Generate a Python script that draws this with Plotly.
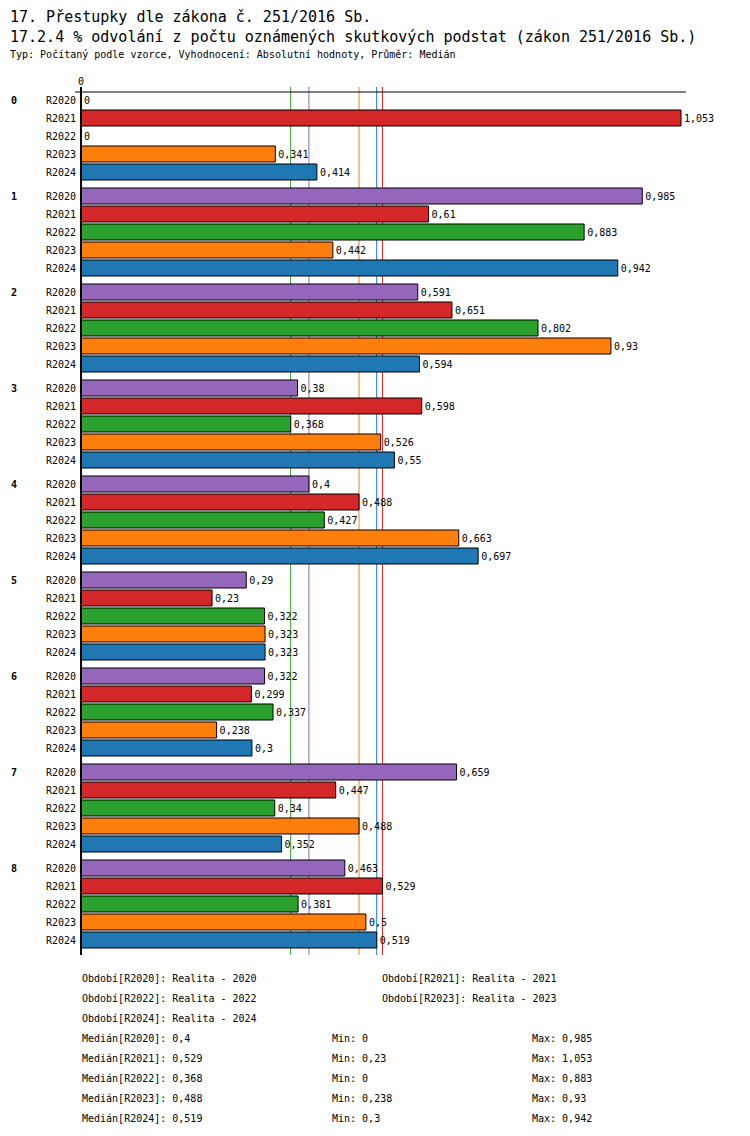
import numpy as np
import plotly.graph_objects as go

# data
groups = ["0", "1", "2", "3", "4", "5", "6", "7", "8"]
series = ["R2020", "R2021", "R2022", "R2023", "R2024"]
periods = ["Realita - 2020", "Realita - 2021", "Realita - 2022", "Realita - 2023", "Realita - 2024"]
colors = ["#9467bd", "#d62728", "#2ca02c", "#ff7f0e", "#1f77b4"]

r2020 = [0, 0.985, 0.591, 0.38, 0.4, 0.29, 0.322, 0.659, 0.463]
r2021 = [1.053, 0.61, 0.651, 0.598, 0.488, 0.23, 0.299, 0.447, 0.529]
r2022 = [0, 0.883, 0.802, 0.368, 0.427, 0.322, 0.337, 0.34, 0.381]
r2023 = [0.341, 0.442, 0.93, 0.526, 0.663, 0.323, 0.238, 0.488, 0.5]
r2024 = [0.414, 0.942, 0.594, 0.55, 0.697, 0.323, 0.3, 0.352, 0.519]
values = [r2020, r2021, r2022, r2023, r2024]

MONO = "DejaVu Sans Mono"


def cz(v):
    return f"{v:g}".replace(".", ",")


# row positions: 5 rows per group plus a third of a row gap
gap = 1 / 3
n = len(series)

# page has an 8px body margin, so the figure is shrunk and shifted
O = 8
W, H = 750 - O, 1136 - O
PL, PT = 81, 92          # plot area corner on screen
pw, ph = 605, 863
L, T = PL - O, PT - O
R, B = W - L - pw, H - T - ph


def px_x(px):
    return (px - PL) / pw


def px_y(py):
    return (PT + ph - py) / ph


fig = go.Figure()

tickvals, ticktext = [], []
for s, name in enumerate(series):
    pos = [g * (n + gap) + s for g in range(len(groups))]
    tickvals += pos
    ticktext += [name] * len(pos)
    fig.add_trace(go.Bar(
        x=values[s], y=pos, orientation="h", name=name,
        width=0.89,
        marker=dict(color=colors[s], line=dict(color="black", width=1)),
        text=[cz(v) for v in values[s]], textposition="outside",
        constraintext="none", cliponaxis=False,
        textfont=dict(family=MONO, size=10, color="black"),
    ))

# median lines
for s in range(n):
    med = float(np.median(values[s]))
    fig.add_shape(type="line", xref="x", yref="paper", x0=med, x1=med,
                  y0=0, y1=px_y(87), layer="below",
                  line=dict(color=colors[s], width=1))

# axis lines
fig.add_shape(type="line", xref="paper", yref="paper", x0=px_x(75), x1=1,
              y0=1, y1=1, line=dict(color="black", width=1))
fig.add_shape(type="line", xref="paper", yref="paper", x0=0, x1=0,
              y0=0, y1=px_y(87), line=dict(color="black", width=2))

ann = []
# titles (kept inside the figure, which starts 8px into the page)
ann.append(dict(text="17. Přestupky dle zákona č. 251/2016 Sb.", x=px_x(O), y=px_y(17),
                font=dict(family=MONO, size=15)))
ann.append(dict(text="17.2.4 % odvolání z počtu oznámených skutkových podstat (zákon 251/2016 Sb.)",
                x=px_x(O), y=px_y(37), font=dict(family=MONO, size=15)))
ann.append(dict(text="Typ: Počítaný podle vzorce, Vyhodnocení: Absolutní hodnoty, Průměr: Medián",
                x=px_x(O), y=px_y(55), font=dict(family=MONO, size=10)))

# group labels
for g, gname in enumerate(groups):
    ann.append(dict(text="<b>" + gname + "</b>", x=px_x(9), y=g * (n + gap), yref="y",
                    font=dict(family=MONO, size=10)))

# footer: periods
for s in range(n):
    col, row = s % 2, s // 2
    ann.append(dict(text=f"Období[{series[s]}]: {periods[s]}", x=px_x(80 + 300 * col),
                    y=px_y(978 + 20 * row), font=dict(family=MONO, size=10)))

# footer: stats
for s in range(n):
    py = px_y(1038 + 20 * s)
    ann.append(dict(text=f"Medián[{series[s]}]: {cz(float(np.median(values[s])))}", x=px_x(80), y=py,
                    font=dict(family=MONO, size=10)))
    ann.append(dict(text=f"Min: {cz(min(values[s]))}", x=px_x(330), y=py,
                    font=dict(family=MONO, size=10)))
    ann.append(dict(text=f"Max: {cz(max(values[s]))}", x=px_x(530), y=py,
                    font=dict(family=MONO, size=10)))

for a in ann:
    a.setdefault("xref", "paper")
    a.setdefault("yref", "paper")
    a.update(showarrow=False, xanchor="left", yanchor="middle")
    a["font"]["color"] = "black"

fig.update_layout(
    width=W, height=H,
    margin=dict(l=L, r=R, t=T, b=B),
    paper_bgcolor="white", plot_bgcolor="white",
    barmode="overlay", showlegend=False,
    annotations=ann,
    xaxis=dict(range=[0, pw / 569.8], side="top", showgrid=False, zeroline=False,
               tickvals=[0], ticktext=["0"], ticks="", showline=False,
               ticklabelstandoff=4,
               tickfont=dict(family=MONO, size=10, color="black")),
    yaxis=dict(range=[(PT + ph - 100) / 18, (PT - 100) / 18], showgrid=False, zeroline=False,
               tickvals=tickvals, ticktext=ticktext, ticks="", showline=False,
               ticklabelstandoff=4,
               tickfont=dict(family=MONO, size=10, color="black")),
)

fig.write_html("out.html")
